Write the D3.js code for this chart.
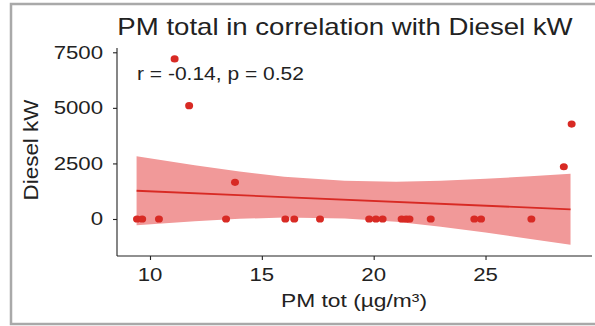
<!DOCTYPE html>
<html>
<head>
<meta charset="utf-8">
<script src="https://cdn.jsdelivr.net/npm/d3@7"></script>
<style>
  body { margin:0; background:#fff; }
  text { font-family: "Liberation Sans", Arial, sans-serif; fill:#222; }
</style>
</head>
<body>
<svg id="chart" width="595" height="326"></svg>
<script>
// points
var pmTot  = [9.42, 9.65, 10.4, 11.1, 11.75, 13.4, 13.8, 16.05, 16.45, 17.6, 19.8, 20.1, 20.4,
              21.25, 21.45, 21.6, 22.55, 24.5, 24.8, 27.05, 28.5, 28.85];
var diesel = [0, 0, 0, 7200, 5100, 0, 1650, 0, 0, 0, 0, 0, 0,
              0, 0, 0, 0, 0, 0, 0, 2350, 4270];

// fitted line and confidence band
var fitX   = [9.4, 28.8];
var fitY   = [1270, 435];
var bandX  = [9.4, 12, 14, 16, 18.7, 21, 23, 25, 27, 28.8];
var bandLo = [-280, -102, 7, 66, 25, -129, -345, -611, -897, -1160];
var bandHi = [2820, 2418, 2137, 1906, 1715, 1671, 1715, 1809, 1923, 2030];

var xTicks = [10, 15, 20, 25];
var yTicks = [0, 2500, 5000, 7500];

var title  = "PM total in correlation with Diesel kW";
var xLabel = "PM tot (\u00b5g/m\u00b3)";
var yLabel = "Diesel kW";
var stat   = "r = -0.14, p = 0.52";

var sx = 1.2;   // the picture is a bit wider than tall
var red = "#d82a24";

var svg = d3.select("#chart");
var panel = {left:117, right:592, top:48, bottom:256};

var x = d3.scaleLinear().domain([8.525, 29.76]).range([panel.left, panel.right]);
var y = d3.scaleLinear().domain([-1665, 7693]).range([panel.bottom, panel.top]);

// outer frame
svg.append("rect")
   .attr("x", 11).attr("y", 4)
   .attr("width", 620).attr("height", 320)
   .attr("fill", "none")
   .attr("stroke", "#a9a9a9")
   .attr("stroke-width", 2.5);

function label(txt, px, py, size, anchor, extra) {
    return svg.append("text")
        .attr("transform", "translate(" + px + "," + py + ")" + (extra || " scale(" + sx + ",1)"))
        .attr("text-anchor", anchor)
        .style("font-size", size + "px")
        .text(txt);
}

// band
var band = bandX.map(function(d, i) { return {x:d, lo:bandLo[i], hi:bandHi[i]}; });
svg.append("path")
   .datum(band)
   .attr("fill", "#f19999")
   .attr("d", d3.area()
        .x(function(d) { return x(d.x); })
        .y0(function(d) { return y(d.lo); })
        .y1(function(d) { return y(d.hi); }));

// fit line
svg.append("path")
   .datum(fitX.map(function(d, i) { return [d, fitY[i]]; }))
   .attr("fill", "none")
   .attr("stroke", red)
   .attr("stroke-width", 1.8)
   .attr("d", d3.line()
        .x(function(d) { return x(d[0]); })
        .y(function(d) { return y(d[1]); }));

// points
svg.selectAll(".pt")
   .data(pmTot)
   .enter().append("ellipse")
   .attr("class", "pt")
   .attr("cx", function(d) { return x(d); })
   .attr("cy", function(d, i) { return y(diesel[i]); })
   .attr("rx", 4)
   .attr("ry", 3.6)
   .attr("fill", red);

// axes
var ax = svg.append("g").attr("transform", "translate(0," + panel.bottom + ")")
    .call(d3.axisBottom(x).tickValues(xTicks).tickSize(4).tickFormat(""));
var ay = svg.append("g").attr("transform", "translate(" + panel.left + ",0)")
    .call(d3.axisLeft(y).tickValues(yTicks).tickSize(4).tickFormat(""));
[ax, ay].forEach(function(a) {
    a.select(".domain").attr("stroke", "#222").attr("stroke-width", 1.1);
    a.selectAll(".tick line").attr("stroke", "#222").attr("stroke-width", 1.1);
});
// axis lines in ggplot stop at the panel
ax.select(".domain").attr("d", "M" + panel.left + ",0H" + panel.right);
ay.select(".domain").attr("d", "M0," + panel.top + "V" + panel.bottom);

xTicks.forEach(function(t) { label(t, x(t), 281, 18.5, "middle"); });
yTicks.forEach(function(t) { label(t, 103, y(t) + 6.5, 18.5, "end"); });

label(title, 345, 35, 23, "middle");
label(xLabel, 354, 307, 19, "middle");
label(yLabel, 38, 150, 19.5, "middle", " rotate(-90) scale(1.15,1)");
label(stat, 137, 80, 17.5, "start");
</script>
</body>
</html>
